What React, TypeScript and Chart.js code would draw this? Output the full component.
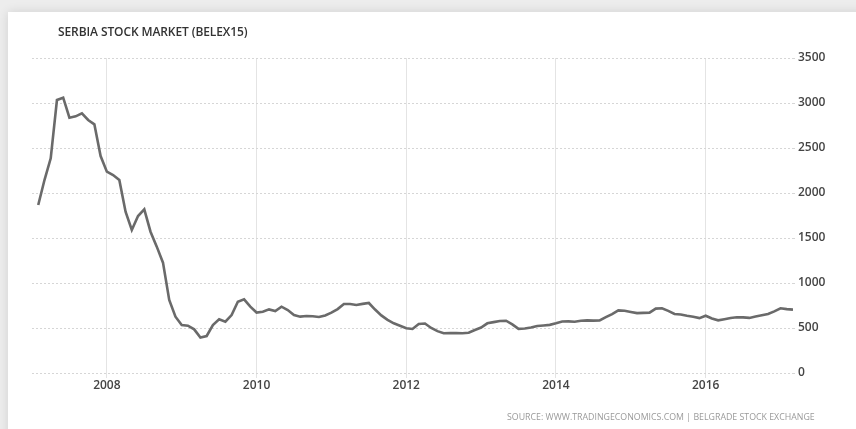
import React, { useEffect, useRef } from "react";
import { Chart, registerables } from "chart.js";

Chart.register(...registerables);

const TITLE = "SERBIA STOCK MARKET (BELEX15)";
const SOURCE = "SOURCE: WWW.TRADINGECONOMICS.COM | BELGRADE STOCK EXCHANGE";

// Monthly closing values per year (2007 starts in February, 2017 ends in March)
const firstMonth2007 = 2; // February
const values2007 = [1867, 2144, 2385, 3033, 3059, 2837, 2852, 2885, 2811, 2763, 2411];
const values2008 = [2237, 2200, 2144, 1793, 1589, 1744, 1819, 1570, 1404, 1226, 811, 626];
const values2009 = [533, 526, 485, 393, 411, 533, 596, 570, 644, 792, 819, 737];
const values2010 = [672, 681, 707, 689, 737, 700, 644, 626, 633, 630, 622, 640];
const values2011 = [670, 710, 767, 767, 756, 768, 778, 705, 640, 590, 552, 525];
const values2012 = [498, 489, 544, 550, 500, 465, 441, 443, 445, 442, 448, 478];
const values2013 = [505, 552, 565, 578, 581, 540, 490, 495, 505, 522, 528, 535];
const values2014 = [552, 572, 574, 570, 580, 585, 582, 585, 620, 655, 696, 692];
const values2015 = [678, 665, 668, 670, 715, 719, 690, 656, 650, 636, 625, 610];
const values2016 = [636, 605, 585, 598, 612, 620, 618, 612, 628, 641, 655, 685];
const values2017 = [719, 710, 704];

const yearSeries: [number, number[]][] = [
  [2007, values2007],
  [2008, values2008],
  [2009, values2009],
  [2010, values2010],
  [2011, values2011],
  [2012, values2012],
  [2013, values2013],
  [2014, values2014],
  [2015, values2015],
  [2016, values2016],
  [2017, values2017],
];

const xTickYears = [2008, 2010, 2012, 2014, 2016];
const yTickValues = [0, 500, 1000, 1500, 2000, 2500, 3000, 3500];

export default function App() {
  const canvasRef = useRef<HTMLCanvasElement | null>(null);

  useEffect(() => {
    const canvas = canvasRef.current;
    if (!canvas) return;

    const points: { x: number; y: number }[] = [];
    for (const [year, vals] of yearSeries) {
      const startMonth = year === 2007 ? firstMonth2007 : 1;
      vals.forEach((v, i) => {
        points.push({ x: year + (startMonth - 1 + i) / 12, y: v });
      });
    }
    const xMin = 2007;
    const xMax = points[points.length - 1].x;

    const font = { family: "'Open Sans', sans-serif", size: 12, weight: "600" as any };

    const chart = new Chart(canvas, {
      type: "line",
      data: {
        datasets: [
          {
            data: points,
            borderColor: "#6a6a6a",
            borderWidth: 2.6,
            pointRadius: 0,
            tension: 0,
            fill: false,
          },
        ],
      },
      options: {
        responsive: false,
        animation: false,
        maintainAspectRatio: false,
        layout: { padding: { left: 32, top: 58, right: 0, bottom: 0 } },
        plugins: {
          legend: { display: false },
          tooltip: { enabled: false },
          title: { display: false },
        },
        scales: {
          x: {
            type: "linear",
            min: xMin,
            max: xMax,
            afterFit: (s: any) => {
              s.height = 56;
            },
            afterBuildTicks: (s: any) => {
              s.ticks = xTickYears.map((v) => ({ value: v }));
            },
            grid: {
              color: "#e4e4e4",
              lineWidth: 1,
              drawTicks: true,
              tickLength: 5,
            },
            border: { display: false },
            ticks: {
              color: "#444",
              font,
              padding: 0,
              maxRotation: 0,
              autoSkip: false,
              callback: (v: any) => String(v),
            },
          },
          y: {
            position: "right",
            min: 0,
            max: 3500,
            afterFit: (s: any) => {
              s.width = 63;
            },
            afterBuildTicks: (s: any) => {
              s.ticks = yTickValues.map((v) => ({ value: v }));
            },
            grid: {
              color: "#d6d6d6",
              lineWidth: 1,
              drawTicks: true,
              tickLength: 2,
            },
            border: { display: false, dash: [2, 2] },
            ticks: {
              color: "#444",
              font,
              padding: 3,
              callback: (v: any) => String(v),
            },
          },
        },
      },
    });

    return () => chart.destroy();
  }, []);

  return (
    <div
      style={{
        position: "fixed",
        left: 0,
        top: 0,
        width: 856,
        height: 429,
        background: "#ededed",
        overflow: "hidden",
      }}
    >
      <div
        style={{
          position: "absolute",
          left: 8,
          top: 12,
          width: 860,
          height: 430,
          background: "#ffffff",
          boxShadow: "0 0 10px rgba(0,0,0,0.12)",
        }}
      />
      <canvas
        ref={canvasRef}
        width={856}
        height={429}
        style={{ position: "absolute", left: 0, top: 0, width: 856, height: 429 }}
      />
      <div
        style={{
          position: "absolute",
          left: 58,
          top: 24,
          fontFamily: "'Open Sans', sans-serif",
          fontSize: 12,
          fontWeight: 600,
          color: "#333",
          whiteSpace: "nowrap",
          lineHeight: "16px",
          letterSpacing: "-0.1px",
        }}
      >
        {TITLE}
      </div>
      <div
        style={{
          position: "absolute",
          left: 507,
          top: 411,
          fontFamily: "'Open Sans', sans-serif",
          fontSize: 8.8,
          color: "#9a9a9a",
          whiteSpace: "nowrap",
          lineHeight: "12px",
        }}
      >
        {SOURCE}
      </div>
    </div>
  );
}
